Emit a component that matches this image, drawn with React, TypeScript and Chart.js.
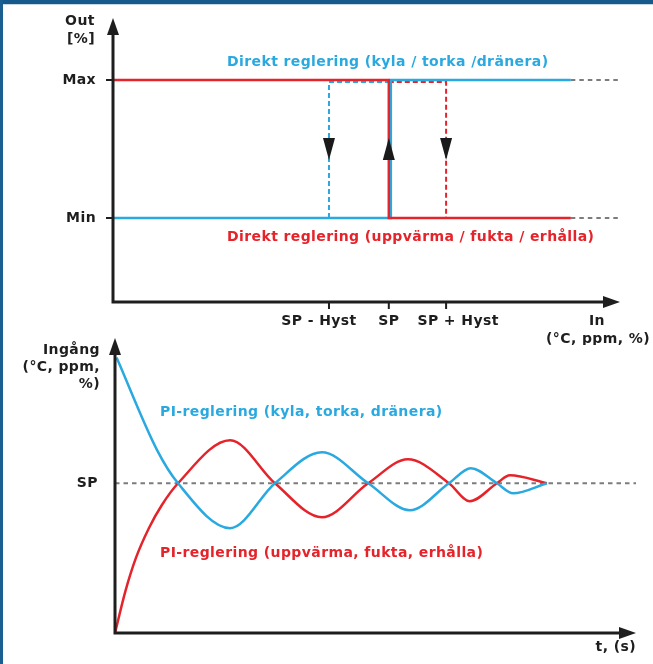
import { useEffect, useRef } from "react";
import { Chart, registerables } from "chart.js";

Chart.register(...registerables);

const RED = "#e5232b";
const BLUE = "#2aa9e0";
const INK = "#1e1e1e";
const GRAY = "#7c7c7c";
const FONT = "bold 14px 'DejaVu Sans', Verdana, sans-serif";
const LETTER_SPACING = "0.4px";

// ---------- Top chart: on/off control with hysteresis ----------
const OUT_MIN = 0;
const OUT_MAX = 100;
const OUT_AXIS_MIN = -61;
const OUT_AXIS_MAX = 145;
const IN_AXIS_MIN = 0;
const IN_AXIS_MAX = 100;
const IN_SP_MINUS = 42.6;
const IN_SP = 54.4;
const IN_SP_COOL = 54.8;
const IN_SP_PLUS = 65.7;
const IN_END = 90.3;
const HYST_LEVEL = 98.6;
const ARROW_LEVEL = 50;

const heatX = [IN_AXIS_MIN, IN_SP, IN_SP, IN_END];
const heatY = [OUT_MAX, OUT_MAX, OUT_MIN, OUT_MIN];
const coolX = [IN_AXIS_MIN, IN_SP_COOL, IN_SP_COOL, IN_END];
const coolY = [OUT_MIN, OUT_MIN, OUT_MAX, OUT_MAX];
const coolHystX = [IN_SP_MINUS, IN_SP_MINUS, IN_SP];
const coolHystY = [OUT_MIN, HYST_LEVEL, HYST_LEVEL];
const heatHystX = [IN_SP, IN_SP_PLUS, IN_SP_PLUS];
const heatHystY = [HYST_LEVEL, HYST_LEVEL, OUT_MIN];
const tailX = [IN_END, IN_AXIS_MAX];

const inTickValues = [IN_SP_MINUS, IN_SP, IN_SP_PLUS];
const inTickLabels = ["SP - Hyst", "SP", "SP + Hyst"];
const outTickValues = [OUT_MAX, OUT_MIN];
const outTickLabels = ["Max", "Min"];
const arrowXs = [IN_SP_MINUS, IN_SP, IN_SP_PLUS];
const arrowDirs = [1, -1, 1]; // 1 = down, -1 = up

const topTitleCool = "Direkt reglering (kyla / torka /dränera)";
const topTitleHeat = "Direkt reglering (uppvärma / fukta / erhålla)";

// ---------- Bottom chart: PI control response ----------
const T_MIN = 0;
const T_MAX = 100;
const V_MIN = -100;
const V_MAX = 97;
const SP_VALUE = 0;

const timeCool = [0.3, 8.1, 12.1, 22.1, 30.7, 39.7, 48.6, 56.6, 64.1, 68.3, 73.3, 76.4, 82.9];
const valueCool = [84, 22, 0, -30, 0, 20.7, 0, -18, 0, 10, 0, -6.7, 0];
const timeHeat = [0, 2, 4, 6.5, 9, 12.1, 22.1, 30.7, 39.7, 48.6, 56.2, 64.1, 68.1, 73.3, 75.8, 82.9];
const valueHeat = [-100, -72, -50, -30, -14.5, 0, 28.7, 0, -22.7, 0, 16, 0, -12, 0, 5.3, 0];
const spLineT = [T_MIN, T_MAX];

const botTitleCool = "PI-reglering (kyla, torka, dränera)";
const botTitleHeat = "PI-reglering (uppvärma, fukta, erhålla)";

const zip = (xs: number[], ys: number[]) => xs.map((x, i) => ({ x, y: ys[i] }));

function arrowHead(ctx: CanvasRenderingContext2D, x: number, y: number, dx: number, dy: number, len: number, half: number) {
  const bx = x - dx * len;
  const by = y - dy * len;
  const px = -dy * half;
  const py = dx * half;
  ctx.beginPath();
  ctx.moveTo(x, y);
  ctx.lineTo(bx + px, by + py);
  ctx.lineTo(bx - px, by - py);
  ctx.closePath();
  ctx.fill();
}

function drawAxes(ctx: CanvasRenderingContext2D, ox: number, oy: number, top: number, right: number) {
  ctx.strokeStyle = INK;
  ctx.fillStyle = INK;
  ctx.lineWidth = 3;
  ctx.lineCap = "butt";
  ctx.beginPath();
  ctx.moveTo(ox, top + 12);
  ctx.lineTo(ox, oy);
  ctx.lineTo(right - 12, oy);
  ctx.stroke();
  arrowHead(ctx, ox, top, 0, -1, 17, 6);
  arrowHead(ctx, right, oy, 1, 0, 17, 6);
}

function setText(ctx: any) {
  ctx.font = FONT;
  ctx.letterSpacing = LETTER_SPACING;
  ctx.textBaseline = "middle";
}

const lineDs = (data: { x: number; y: number }[], color: string, dash: number[] = [], width = 2.5, order = 0) => ({
  data,
  borderColor: color,
  backgroundColor: color,
  borderWidth: width,
  borderDash: dash,
  pointRadius: 0,
  tension: 0,
  fill: false,
  clip: false as any,
  order,
});

const topDecor = {
  id: "topDecor",
  afterDatasetsDraw(chart: any) {
    const { ctx, chartArea: a, scales } = chart;
    const x = scales.x;
    const y = scales.y;
    ctx.save();
    drawAxes(ctx, a.left, a.bottom, a.top, a.right);
    ctx.lineWidth = 2;
    ctx.strokeStyle = INK;
    ctx.beginPath();
    outTickValues.forEach((v) => {
      const py = y.getPixelForValue(v);
      ctx.moveTo(a.left - 7, py);
      ctx.lineTo(a.left, py);
    });
    inTickValues.forEach((v) => {
      const px = x.getPixelForValue(v);
      ctx.moveTo(px, a.bottom);
      ctx.lineTo(px, a.bottom + 7);
    });
    ctx.stroke();
    // hysteresis arrows
    ctx.fillStyle = "#1a1a1a";
    arrowXs.forEach((v, i) => {
      const px = x.getPixelForValue(v);
      const py = y.getPixelForValue(ARROW_LEVEL);
      arrowHead(ctx, px, py + arrowDirs[i] * 11, 0, arrowDirs[i], 22, 6);
    });
    setText(ctx);
    ctx.fillStyle = INK;
    ctx.textAlign = "right";
    outTickValues.forEach((v, i) => {
      ctx.fillText(outTickLabels[i], a.left - 17, y.getPixelForValue(v));
    });
    ctx.textAlign = "center";
    const shift = [-10, 0, 12];
    inTickValues.forEach((v, i) => {
      ctx.fillText(inTickLabels[i], x.getPixelForValue(v) + shift[i], a.bottom + 19);
    });
    ctx.fillText("In", a.right - 23, a.bottom + 19);
    ctx.fillText("(°C, ppm, %)", a.right - 22, a.bottom + 37);
    ctx.fillText("Out", a.left - 33, a.top + 3);
    ctx.fillText("[%]", a.left - 32, a.top + 21);
    ctx.textAlign = "left";
    ctx.fillStyle = BLUE;
    ctx.fillText(topTitleCool, 227, y.getPixelForValue(OUT_MAX) - 18);
    ctx.fillStyle = RED;
    ctx.fillText(topTitleHeat, 227, y.getPixelForValue(OUT_MIN) + 19);
    ctx.restore();
  },
};

const botDecor = {
  id: "botDecor",
  afterDatasetsDraw(chart: any) {
    const { ctx, chartArea: a, scales } = chart;
    const y = scales.y;
    ctx.save();
    drawAxes(ctx, a.left, a.bottom, a.top, a.right);
    setText(ctx);
    ctx.fillStyle = INK;
    ctx.textAlign = "right";
    ctx.fillText("SP", a.left - 17, y.getPixelForValue(SP_VALUE));
    ctx.fillText("Ingång", a.left - 15, a.top + 12);
    ctx.fillText("(°C, ppm,", a.left - 15, a.top + 29);
    ctx.fillText("%)", a.left - 15, a.top + 46);
    ctx.fillText("t, (s)", a.right, a.bottom + 14);
    ctx.textAlign = "left";
    ctx.fillStyle = BLUE;
    ctx.fillText(botTitleCool, 160, y.getPixelForValue(SP_VALUE) - 71);
    ctx.fillStyle = RED;
    ctx.fillText(botTitleHeat, 160, y.getPixelForValue(SP_VALUE) + 70);
    ctx.restore();
  },
};

const baseOptions = (xmin: number, xmax: number, ymin: number, ymax: number, padding: any) => ({
  responsive: false,
  animation: false as const,
  events: [] as any[],
  layout: { padding },
  plugins: { legend: { display: false }, tooltip: { enabled: false }, title: { display: false } },
  scales: {
    x: { type: "linear" as const, min: xmin, max: xmax, display: false },
    y: { type: "linear" as const, min: ymin, max: ymax, display: false },
  },
});

export default function App() {
  const topRef = useRef<HTMLCanvasElement>(null);
  const botRef = useRef<HTMLCanvasElement>(null);

  useEffect(() => {
    const top = new Chart(topRef.current!, {
      type: "line",
      data: {
        datasets: [
          lineDs(zip(heatX, heatY), RED, [], 2.5, 1),
          lineDs(zip(coolX, coolY), BLUE, [], 2.5, 2),
          lineDs(zip(coolHystX, coolHystY), BLUE, [5, 3], 2, 3),
          lineDs(zip(heatHystX, heatHystY), RED, [5, 3], 2, 3),
          lineDs(zip(tailX, [OUT_MAX, OUT_MAX]), GRAY, [4.5, 4], 2, 4),
          lineDs(zip(tailX, [OUT_MIN, OUT_MIN]), GRAY, [4.5, 4], 2, 4),
        ] as any,
      },
      options: baseOptions(IN_AXIS_MIN, IN_AXIS_MAX, OUT_AXIS_MIN, OUT_AXIS_MAX, { left: 113, right: 33, top: 18, bottom: 43 }) as any,
      plugins: [topDecor],
    });

    const bot = new Chart(botRef.current!, {
      type: "line",
      data: {
        datasets: [
          { ...lineDs(zip(timeCool, valueCool), BLUE, [], 2.5, 1), cubicInterpolationMode: "monotone" },
          { ...lineDs(zip(timeHeat, valueHeat), RED, [], 2.5, 1), cubicInterpolationMode: "monotone" },
          lineDs(zip(spLineT, [SP_VALUE, SP_VALUE]), GRAY, [4.5, 4], 2, 5),
        ] as any,
      },
      options: baseOptions(T_MIN, T_MAX, V_MIN, V_MAX, { left: 115, right: 17, top: 8, bottom: 31 }) as any,
      plugins: [botDecor],
    });

    return () => {
      top.destroy();
      bot.destroy();
    };
  }, []);

  return (
    <div style={{ position: "fixed", left: 0, top: 0, width: 653, height: 664, background: "#fff", overflow: "hidden" }}>
      <canvas ref={topRef} width={653} height={345} style={{ position: "absolute", left: 0, top: 0, width: 653, height: 345 }} />
      <canvas ref={botRef} width={653} height={334} style={{ position: "absolute", left: 0, top: 330, width: 653, height: 334 }} />
      <div style={{ position: "absolute", left: 0, top: 0, width: 653, height: 4, background: "#16598b" }} />
      <div style={{ position: "absolute", left: 0, top: 4, width: 653, height: 1, background: "#c9d7e3" }} />
      <div style={{ position: "absolute", left: 0, top: 0, width: 3, height: 664, background: "#1b5f90" }} />
    </div>
  );
}
